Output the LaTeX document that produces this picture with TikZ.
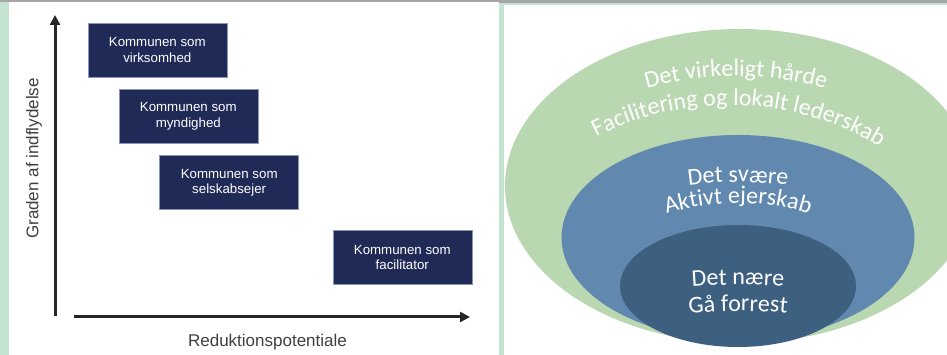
\documentclass[tikz,border=0pt]{standalone}
\usepackage{fontspec}
\usetikzlibrary{arrows.meta,decorations.text}
\newfontfamily\arialf{Liberation Sans}
\newfontfamily\calib{Carlito}
\definecolor{navy}{HTML}{1F2A56}
\definecolor{boxedge}{HTML}{8A96B8}
\definecolor{axisgray}{HTML}{262626}
\definecolor{labelgray}{HTML}{404040}
\definecolor{mint}{HTML}{C4E3D1}
\definecolor{topgray}{HTML}{A6A6A6}
\definecolor{outergreen}{HTML}{B9D8B1}
\definecolor{midblue}{HTML}{6189B0}
\definecolor{innerblue}{HTML}{3D6080}
\tikzset{
  rolebox/.style={fill=navy, draw=boxedge, line width=0.6pt, minimum width=139pt,
    minimum height=54pt, text=white, align=center, inner sep=0pt,
    font=\arialf\fontsize{13.3}{15.3}\selectfont},
  axisline/.style={line width=3pt, draw=axisgray, -{Triangle[length=10pt,width=10pt]}},
  axislabel/.style={text=labelgray, inner sep=0pt, anchor=base, font=\arialf\fontsize{17}{20}\selectfont},
  arctext/.style={decorate, decoration={text along path, text align=center, text color=white,
    text={|\calib\fontsize{24}{28}\selectfont|#1}}}
}
\begin{document}
\begin{tikzpicture}[x=1pt,y=1pt]
\useasboundingbox (0,0) rectangle (947,355);
\fill[white] (0,0) rectangle (947,355);
% frames
\fill[topgray] (0,353) rectangle (499,354.6);
\fill[mint] (0,0) rectangle (8.5,353);
\fill[topgray] (499,352.3) rectangle (947,354.6);
\fill[mint] (499,349.5) rectangle (947,352.3);
\fill[mint] (499,0) rectangle (504,352.3);
% left chart
\coordinate (ya0) at (55,39);
\coordinate (ya1) at (55,340);
\coordinate (xa0) at (74,38);
\coordinate (xa1) at (470,38);
\draw[axisline] (ya0) -- (ya1);
\draw[axisline] (xa0) -- (xa1);
\node[axislabel, rotate=90] (ylab) at (38.3,196.5) {Graden af indflydelse};
\node[axislabel] (xlab) at (267.5,8.3) {Reduktionspotentiale};
\node[rolebox] (b1) at (157.3,305) {Kommunen som\\virksomhed};
\node[rolebox] (b2) at (188.3,238.7) {Kommunen som\\myndighed};
\node[rolebox] (b3) at (229.2,172.5) {Kommunen som\\selskabsejer};
\node[rolebox] (b4) at (402.3,97.7) {Kommunen som\\facilitator};
% right diagram
\begin{scope}
\clip (504,0) rectangle (947,349.5);
\fill[outergreen] (740,169) ellipse[x radius=235, y radius=157];
\fill[midblue] (738,117.5) ellipse[x radius=176.5, y radius=102.5];
\fill[innerblue] (738,69) ellipse[x radius=118, y radius=61];
\end{scope}
\path[arctext={Det virkeligt hårde}] ([shift={(120:318)}]736,-39) arc[start angle=120, end angle=60, radius=318];
\path[arctext={Facilitering og lokalt lederskab}] ([shift={(133:291)}]729,-41) arc[start angle=133, end angle=43, radius=291];
\path[arctext={Det svære}] ([shift={(105:359)}]738,-186) arc[start angle=105, end angle=75, radius=359];
\path[arctext={Aktivt ejerskab}] ([shift={(125:238)}]738,-86) arc[start angle=125, end angle=55, radius=238];
\path[arctext={Det nære}] ([shift={(98:600)}]738,-530) arc[start angle=98, end angle=82, radius=600];
\path[arctext={Gå forrest}] ([shift={(100:500)}]738,-456) arc[start angle=100, end angle=80, radius=500];
\end{tikzpicture}
\end{document}
